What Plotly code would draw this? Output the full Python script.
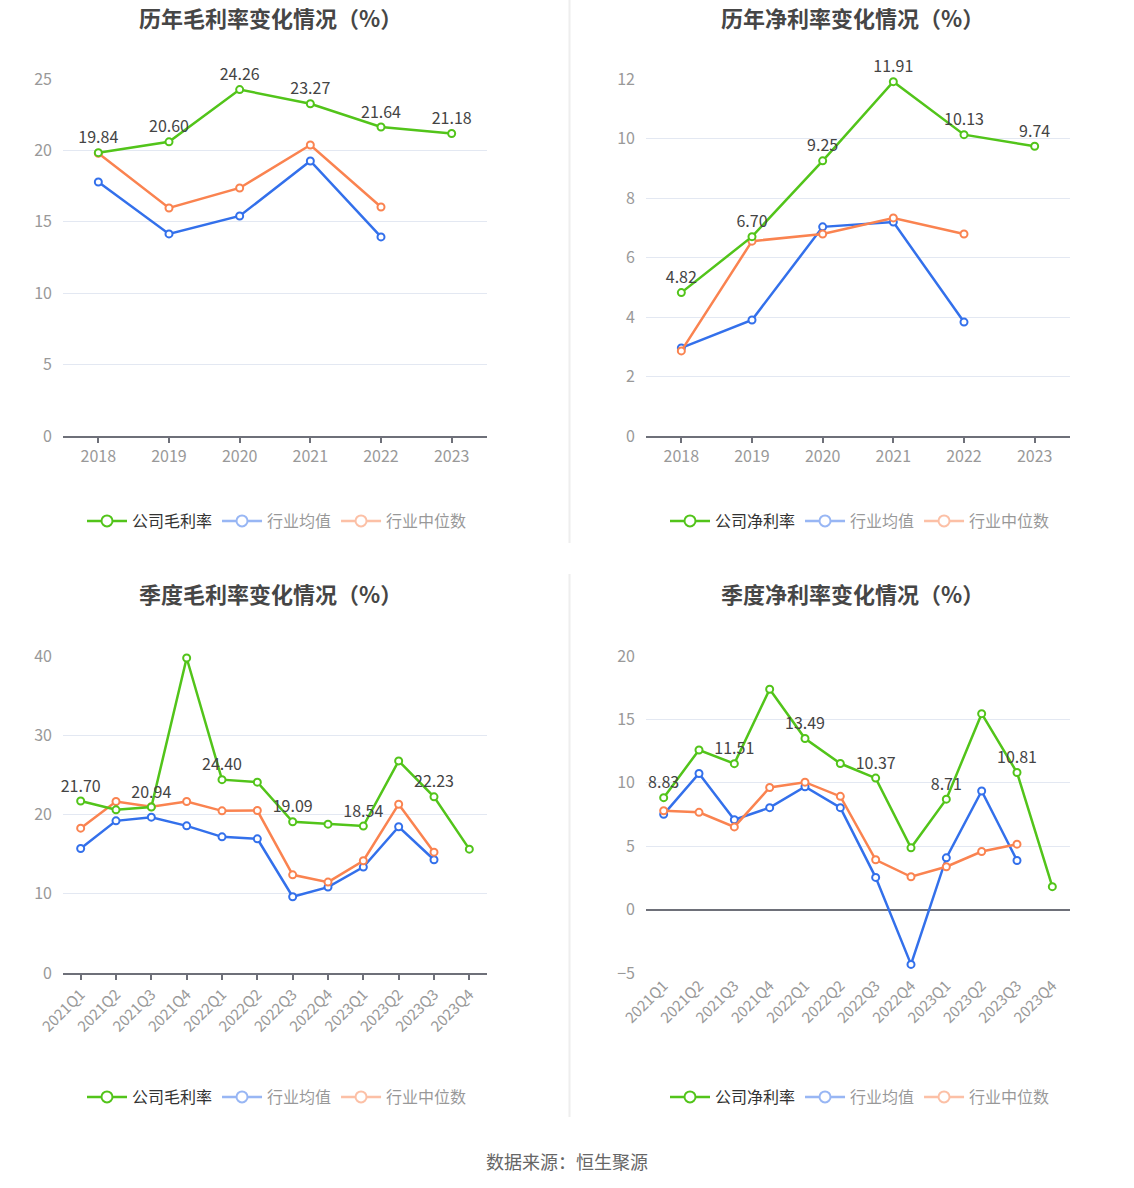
import plotly.graph_objects as go

# ---------------- data ----------------
years = ["2018", "2019", "2020", "2021", "2022", "2023"]
quarters = ["2021Q1", "2021Q2", "2021Q3", "2021Q4", "2022Q1", "2022Q2",
            "2022Q3", "2022Q4", "2023Q1", "2023Q2", "2023Q3", "2023Q4"]

annual_gross_company = [19.84, 20.60, 24.26, 23.27, 21.64, 21.18]
annual_gross_avg = [17.79, 14.15, 15.41, 19.26, 13.94, None]
annual_gross_median = [19.80, 15.97, 17.37, 20.38, 16.04, None]

annual_net_company = [4.82, 6.70, 9.25, 11.91, 10.13, 9.74]
annual_net_avg = [2.96, 3.90, 7.03, 7.19, 3.83, None]
annual_net_median = [2.86, 6.55, 6.79, 7.33, 6.79, None]

q_gross_company = [21.70, 20.59, 20.94, 39.75, 24.40, 24.08, 19.09, 18.78, 18.54, 26.76, 22.23, 15.63]
q_gross_avg = [15.71, 19.20, 19.66, 18.57, 17.18, 16.93, 9.62, 10.84, 13.36, 18.45, 14.29, None]
q_gross_median = [18.28, 21.64, 20.97, 21.64, 20.46, 20.50, 12.39, 11.47, 14.16, 21.30, 15.25, None]

q_net_company = [8.83, 12.59, 11.51, 17.38, 13.49, 11.52, 10.37, 4.87, 8.71, 15.45, 10.81, 1.81]
q_net_avg = [7.51, 10.73, 7.09, 8.04, 9.69, 8.04, 2.54, -4.32, 4.08, 9.35, 3.87, None]
q_net_median = [7.80, 7.67, 6.52, 9.63, 10.05, 8.93, 3.93, 2.59, 3.38, 4.58, 5.16, None]

titles = ["历年毛利率变化情况（%）", "历年净利率变化情况（%）",
          "季度毛利率变化情况（%）", "季度净利率变化情况（%）"]
company_names = ["公司毛利率", "公司净利率", "公司毛利率", "公司净利率"]
avg_name = "行业均值"
median_name = "行业中位数"
source_text = "数据来源：恒生聚源"

# ---------------- style ----------------
W, H = 1134, 1188
GREEN = "#52C41A"
BLUE = "#3370EB"
ORANGE = "#FA8350"
FONT = "Noto Sans CJK SC, Microsoft YaHei, sans-serif"
GRID = "#E3E8F2"
AXIS = "#6E7079"
TICKC = "#999999"


def px_x(a, b):
    return [a / W, b / W]


def px_y(top, bottom):
    return [1 - bottom / H, 1 - top / H]


panels = [
    dict(x=years, c=annual_gross_company, a=annual_gross_avg, m=annual_gross_median,
         xd=px_x(63, 487), yd=px_y(79, 436), yr=[0, 25], dt=5, all_labels=True, rot=0),
    dict(x=years, c=annual_net_company, a=annual_net_avg, m=annual_net_median,
         xd=px_x(646, 1070), yd=px_y(79, 436), yr=[0, 12], dt=2, all_labels=True, rot=0),
    dict(x=quarters, c=q_gross_company, a=q_gross_avg, m=q_gross_median,
         xd=px_x(63, 487), yd=px_y(656, 973), yr=[0, 40], dt=10, all_labels=False, rot=-45),
    dict(x=quarters, c=q_net_company, a=q_net_avg, m=q_net_median,
         xd=px_x(646, 1070), yd=px_y(656, 973), yr=[-5, 20], dt=5, all_labels=False, rot=-45),
]

title_pos = [(270, 17), (852, 17), (270, 593), (852, 593)]
legend_pos = [(277, 521), (860, 521), (277, 1097), (860, 1097)]

fig = go.Figure()
layout = dict(
    width=W, height=H, margin=dict(l=0, r=0, t=0, b=0, autoexpand=False),
    plot_bgcolor="white", paper_bgcolor="white",
    font=dict(family=FONT, color="#333333"),
    hovermode=False,
    annotations=[], shapes=[],
)

for i, p in enumerate(panels):
    k = i + 1
    xa = "x" if k == 1 else f"x{k}"
    ya = "y" if k == 1 else f"y{k}"
    lg = "legend" if k == 1 else f"legend{k}"
    labels = [f"{v:.2f}" if (p["all_labels"] or j % 2 == 0) else "" for j, v in enumerate(p["c"])]

    def line_trace(x, y, color, name, showlegend=False, visible=True, text=None, msize=7):
        return go.Scatter(
            x=x, y=y, name=name, mode="lines+markers+text" if text else "lines+markers",
            text=text, textposition="top center",
            textfont=dict(size=16, color="#444444", family=FONT),
            line=dict(color=color, width=2.5),
            marker=dict(symbol="circle", size=msize, color="white", line=dict(color=color, width=2)),
            xaxis=xa, yaxis=ya, legend=lg, showlegend=showlegend, visible=visible,
            cliponaxis=False,
        )

    fig.add_trace(line_trace(p["x"], p["a"], BLUE, avg_name))
    fig.add_trace(line_trace(p["x"], p["m"], ORANGE, median_name))
    fig.add_trace(line_trace(p["x"], p["c"], GREEN, company_names[i], text=labels))
    # legend entries (the industry ones appear faded, as in the reference)
    fig.add_trace(line_trace([None], [None], GREEN, company_names[i], showlegend=True, msize=11))
    fig.add_trace(line_trace(p["x"], p["a"], BLUE, avg_name, showlegend=True, visible="legendonly", msize=11))
    fig.add_trace(line_trace(p["x"], p["m"], ORANGE, median_name, showlegend=True, visible="legendonly", msize=11))

    has_neg = p["yr"][0] < 0
    layout["xaxis" if k == 1 else f"xaxis{k}"] = dict(
        domain=p["xd"], anchor=ya, type="category", categoryorder="array", categoryarray=p["x"],
        range=[-0.5, len(p["x"]) - 0.5], automargin=False,
        showline=not has_neg, linecolor=AXIS, linewidth=1.5,
        ticks="" if has_neg else "outside", ticklen=5, tickcolor=AXIS, tickwidth=1.5,
        tickangle=p["rot"], tickfont=dict(size=16 if p["rot"] == 0 else 15, color=TICKC, family=FONT),
        showgrid=False, zeroline=False, fixedrange=True,
    )
    layout["yaxis" if k == 1 else f"yaxis{k}"] = dict(
        domain=p["yd"], anchor=xa, range=p["yr"], dtick=p["dt"], tick0=0, automargin=False,
        showline=False, showgrid=True, gridcolor=GRID, gridwidth=1,
        zeroline=has_neg, zerolinecolor=AXIS, zerolinewidth=1.5,
        tickfont=dict(size=16, color=TICKC, family=FONT), ticks="", ticklabelstandoff=10,
        fixedrange=True,
    )
    if has_neg:
        # tick marks sitting on the zero line
        frac = (0 - p["yr"][0]) / (p["yr"][1] - p["yr"][0])
        pos = p["yd"][0] + frac * (p["yd"][1] - p["yd"][0])
        layout["xaxis5"] = dict(
            domain=p["xd"], overlaying=xa, anchor="free", position=pos, automargin=False,
            range=[-0.5, len(p["x"]) - 0.5], tickvals=list(range(len(p["x"]))),
            showticklabels=False, ticks="outside", ticklen=5, tickcolor=AXIS, tickwidth=1.5,
            showline=False, showgrid=False, zeroline=False, fixedrange=True,
        )

    lx, ly = legend_pos[i]
    layout[lg] = dict(
        orientation="h", x=lx / W, y=1 - ly / H, xanchor="center", yanchor="middle",
        font=dict(size=16, color="#333333", family=FONT), bgcolor="rgba(0,0,0,0)",
        itemwidth=40, traceorder="normal", itemclick=False, itemdoubleclick=False,
    )

    tx, ty = title_pos[i]
    layout["annotations"].append(dict(
        text=f"<b>{titles[i]}</b>", x=tx / W, y=1 - ty / H, xref="paper", yref="paper",
        xanchor="center", yanchor="middle", showarrow=False,
        font=dict(size=22, color="#464646", family=FONT),
    ))

layout["annotations"].append(dict(
    text=source_text, x=567 / W, y=1 - 1161 / H, xref="paper", yref="paper",
    xanchor="center", yanchor="middle", showarrow=False,
    font=dict(size=18, color="#666666", family=FONT),
))

for (y0, y1) in [(0, 543), (574, 1117)]:
    layout["shapes"].append(dict(
        type="line", xref="paper", yref="paper", x0=569.5 / W, x1=569.5 / W,
        y0=1 - y1 / H, y1=1 - y0 / H, line=dict(color="#EEEEEE", width=2),
    ))

fig.update_layout(**layout)
fig.write_html(
    "out.html",
    config={"displayModeBar": False},
    post_script="document.body.style.margin='0';document.body.style.padding='0';",
)
